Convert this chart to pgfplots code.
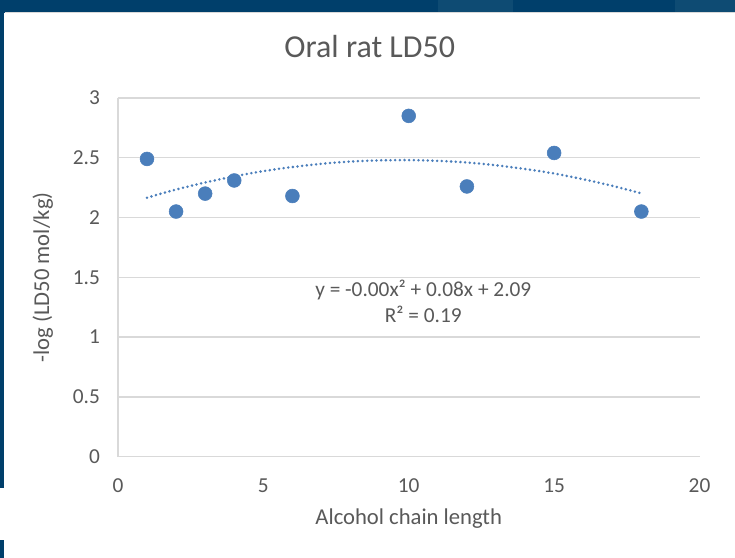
\documentclass[border=0pt]{standalone}
\usepackage{pgfplots}
\pgfplotsset{compat=1.18}
\usepackage{fontspec}
\setmainfont{Carlito}
\definecolor{slideblue}{RGB}{0,63,107}
\definecolor{slideblue2}{RGB}{14,75,115}
\definecolor{ptblue}{RGB}{74,126,187}
\definecolor{gridgray}{RGB}{217,217,217}
\definecolor{txtgray}{RGB}{89,89,89}
\begin{document}
\begin{tikzpicture}[x=0.75pt,y=0.75pt]
% background (image pixel coordinates, y measured upward from bottom)
\fill[slideblue] (0,0) rectangle (735,558);
\fill[slideblue2] (438,545) rectangle (513,558);
\fill[slideblue2] (675,545) rectangle (735,558);
\fill[white] (0,0) rectangle (735,545);
\fill[slideblue] (0,70) rectangle (4,545);
\fill[slideblue] (0,0) rectangle (4,18);
\draw[gridgray,line width=0.75pt] (5,545) -- (735,545);
\node[text=txtgray,font=\fontsize{24}{28}\selectfont] at (370,511) {Oral rat LD50};
\begin{axis}[
  at={(88.5pt,75.75pt)}, anchor=south west,
  scale only axis, width=436.5pt, height=269.25pt,
  xmin=0, xmax=20, ymin=0, ymax=3,
  xtick={0,5,10,15,20}, ytick={0,0.5,1,1.5,2,2.5,3},
  axis x line*=bottom, axis y line*=left,
  axis line style={gridgray,line width=1pt,-},
  ymajorgrids, grid style={gridgray,line width=1pt},
  tick style={draw=none},
  /pgf/number format/assume math mode=true,
  ticklabel style={text=txtgray,font=\fontsize{16}{19}\selectfont},
  xticklabel style={yshift=-13pt},
  yticklabel style={xshift=-10pt},
  xlabel={Alcohol chain length}, ylabel={-log (LD50 mol/kg)},
  label style={text=txtgray,font=\fontsize{17}{20}\selectfont},
  xlabel style={yshift=-5pt},
  ylabel style={yshift=8pt},
  clip=false,
]
\addplot[only marks, mark=*, mark size=5.2pt, mark options={fill=ptblue,draw=ptblue}]
coordinates {(1,2.49) (2,2.05) (3,2.20) (4,2.31) (6,2.18) (10,2.85) (12,2.26) (15,2.54) (18,2.05)};
\addplot[ptblue, line width=2.1pt, dash pattern=on 0pt off 3.5pt, line cap=round, smooth]
coordinates {(1,2.166) (2,2.234) (3,2.293) (4,2.344) (5,2.388) (6,2.422) (7,2.449) (8,2.468) (9,2.478) (10,2.480) (11,2.474) (12,2.460) (13,2.437) (14,2.406) (15,2.368) (16,2.320) (17,2.265) (18,2.202)};
\node[text=txtgray,font=\fontsize{16}{19}\selectfont,align=center] at (axis cs:10.5,1.3) {y = -0.00x² + 0.08x + 2.09\\R² = 0.19};
\end{axis}
\end{tikzpicture}
\end{document}
